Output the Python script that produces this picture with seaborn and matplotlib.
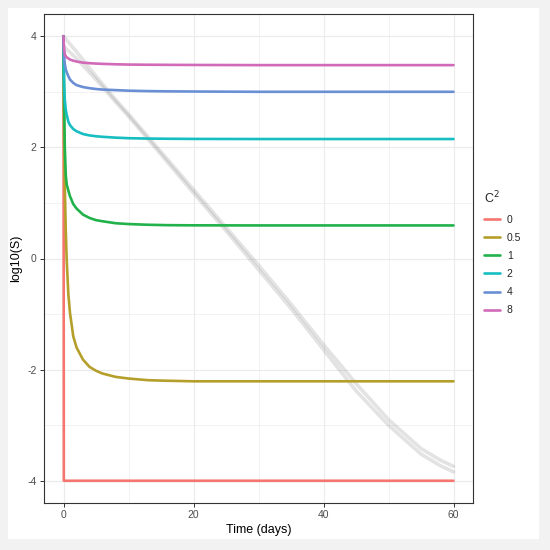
import matplotlib
matplotlib.use("Agg")
import matplotlib.pyplot as plt
from matplotlib.lines import Line2D
from matplotlib.patches import Rectangle
from matplotlib.ticker import MultipleLocator
import seaborn as sns
import pandas as pd

# ---------------- data ----------------
time_days = [0, 0.05, 0.1, 0.2, 0.35, 0.5, 0.75, 1, 1.5, 2, 3, 4, 5, 6, 8, 10,
             13, 16, 20, 30, 40, 50, 60]
c2_levels = ["0", "0.5", "1", "2", "4", "8"]
s_c0 = [4, -4, -4, -4, -4, -4, -4, -4, -4, -4, -4, -4, -4, -4, -4, -4,
        -4, -4, -4, -4, -4, -4, -4]
s_c05 = [4, 3.0, 2.2, 1.3, 0.5, -0.05, -0.65, -0.98, -1.4, -1.6, -1.82, -1.95,
         -2.02, -2.07, -2.13, -2.16, -2.19, -2.2, -2.21, -2.21, -2.21, -2.21, -2.21]
s_c1 = [4, 3.3, 2.8, 2.0, 1.5, 1.33, 1.22, 1.12, 0.98, 0.9, 0.79, 0.73, 0.69,
        0.67, 0.635, 0.62, 0.607, 0.6, 0.597, 0.595, 0.595, 0.595, 0.595]
s_c2 = [4, 3.4, 3.1, 2.85, 2.68, 2.58, 2.46, 2.4, 2.33, 2.29, 2.24, 2.215, 2.2,
        2.19, 2.175, 2.165, 2.158, 2.155, 2.152, 2.15, 2.15, 2.15, 2.15]
s_c4 = [4, 3.75, 3.62, 3.5, 3.4, 3.35, 3.28, 3.22, 3.16, 3.12, 3.085, 3.065,
        3.05, 3.04, 3.03, 3.02, 3.012, 3.008, 3.005, 3.0, 3.0, 3.0, 3.0]
s_c8 = [4, 3.85, 3.76, 3.68, 3.64, 3.62, 3.6, 3.58, 3.56, 3.545, 3.525, 3.515,
        3.508, 3.503, 3.495, 3.49, 3.487, 3.485, 3.483, 3.48, 3.48, 3.48, 3.48]

grey_time = [0, 2, 5, 8, 10, 15, 20, 25, 30, 35, 40, 45, 50, 55, 58, 60]
grey_a = [4.0, 3.72, 3.28, 2.86, 2.6, 1.92, 1.24, 0.56, -0.12, -0.82, -1.55,
          -2.25, -2.9, -3.42, -3.63, -3.74]
grey_b = [3.82, 3.6, 3.22, 2.82, 2.56, 1.87, 1.18, 0.5, -0.2, -0.9, -1.64,
          -2.38, -3.0, -3.52, -3.73, -3.84]

x_ticks = [0, 20, 40, 60]
y_ticks = [-4, -2, 0, 2, 4]
palette_colors = ["#F4766F", "#B59F2B", "#21B24B", "#16BEC2", "#6A8FD5", "#D16AB9"]

# ---------------- frames ----------------
series = [s_c0, s_c05, s_c1, s_c2, s_c4, s_c8]
rows = []
for lvl, vals in zip(c2_levels, series):
    for t, v in zip(time_days, vals):
        rows.append({"time": t, "logS": v, "C2": lvl})
df = pd.DataFrame(rows)

grey_rows = []
for name, vals in (("a", grey_a), ("b", grey_b)):
    for t, v in zip(grey_time, vals):
        grey_rows.append({"time": t, "logS": v, "strand": name})
gdf = pd.DataFrame(grey_rows)

# ---------------- figure ----------------
sns.set_theme(style="white")
plt.rcParams["font.family"] = ["Liberation Sans", "DejaVu Sans"]
plt.rcParams["axes.unicode_minus"] = False

fig = plt.figure(figsize=(5.5, 5.5), dpi=100, facecolor="#f2f2f2")
card = Rectangle((8 / 550, 11 / 550), 531 / 550, 531 / 550,
                 transform=fig.transFigure, facecolor="white",
                 edgecolor="none", zorder=-10)
fig.patches.append(card)
ax = fig.add_axes([44 / 550, 1 - 503 / 550, 429 / 550, 489 / 550])
ax.set_zorder(1)
ax.set_facecolor("white")

for strand in ("a", "b"):
    sub = gdf[gdf["strand"] == strand]
    sns.lineplot(data=sub, x="time", y="logS", ax=ax, color="#808080",
                 alpha=0.22, linewidth=2.6, estimator=None, sort=False,
                 legend=False, zorder=2)

pal = dict(zip(c2_levels, palette_colors))
sns.lineplot(data=df, x="time", y="logS", hue="C2", hue_order=c2_levels,
             palette=pal, ax=ax, linewidth=1.9, estimator=None, sort=False,
             legend=False, zorder=3)

ax.set_xlim(-3, 63)
ax.set_ylim(-4.4, 4.4)
ax.set_xticks(x_ticks)
ax.set_yticks(y_ticks)
ax.xaxis.set_minor_locator(MultipleLocator(10))
ax.yaxis.set_minor_locator(MultipleLocator(1))
ax.grid(which="major", color="#ebebeb", linewidth=0.8, zorder=0)
ax.grid(which="minor", color="#ebebeb", linewidth=0.45, zorder=0)
ax.set_axisbelow(True)
ax.tick_params(which="major", direction="out", length=3.2, width=0.7,
               color="#333333", labelsize=7.5, labelcolor="#4d4d4d", pad=2,
               bottom=True, left=True)
ax.tick_params(which="minor", length=0)
for sp in ax.spines.values():
    sp.set_color("#333333")
    sp.set_linewidth(0.8)

ax.set_xlabel("Time (days)", fontsize=9, color="black", labelpad=3)
ax.set_ylabel("log10(S)", fontsize=9, color="black", labelpad=4)

handles = [Line2D([0], [0], color=c, linewidth=1.9) for c in palette_colors]
leg = ax.legend(handles, c2_levels, title="C$^2$", loc="upper left",
                bbox_to_anchor=(484 / 550, 1 - 190 / 550),
                bbox_transform=fig.transFigure, frameon=False, fontsize=7.5,
                title_fontsize=9, handlelength=1.5, handletextpad=0.7,
                labelspacing=0.78, borderpad=0, borderaxespad=0)
leg._legend_box.align = "left"

fig.savefig("out.png", dpi=100, facecolor=fig.get_facecolor())
